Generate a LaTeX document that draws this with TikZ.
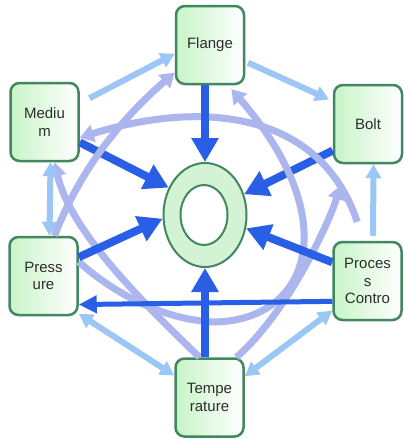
\documentclass[tikz,border=0pt]{standalone}
\usepackage{fontspec}
\setmainfont{Liberation Sans}
\usetikzlibrary{arrows.meta,shapes.geometric}
\definecolor{boxedge}{RGB}{66,135,95}
\definecolor{boxfill}{RGB}{200,244,200}
\definecolor{ringfill}{RGB}{212,243,212}
\definecolor{deepblue}{RGB}{40,95,230}
\definecolor{paleblue}{RGB}{155,198,245}
\definecolor{lilac}{RGB}{172,182,238}
\definecolor{txt}{RGB}{45,45,45}

\begin{document}
\begin{tikzpicture}[x=1pt,y=1pt]
\tikzstyle{block}=[draw=boxedge, line width=2.5pt, rounded corners=9pt, left color=boxfill, right color=white, minimum width=68pt, minimum height=78pt, inner sep=0pt, align=center, text=txt, font=\fontsize{15}{17.5}\selectfont]
\tikzstyle{mainarr}=[deepblue, line width=8pt, -{Triangle[width=26pt,length=24pt]}]
\tikzstyle{sidearr}=[paleblue, line width=6pt, -{Triangle[width=15pt,length=14pt]}]
\tikzstyle{bothway}=[paleblue, line width=6pt, {Triangle[width=15pt,length=14pt]}-{Triangle[width=15pt,length=14pt]}]
\tikzstyle{looparr}=[lilac, line width=7pt, -{Triangle[width=17pt,length=14pt]}]
\fill [white] (0,0) rectangle (403,-439);
\node [block] (flange) at (210,-45) {Flange};
\node [block] (medium) at (44.5,-122) {Mediu\\m};
\node [block] (bolt) at (368,-124) {Bolt};
\node [block] (pres) at (43.5,-276) {Press\\ure};
\node [block] (proc) at (367.5,-281) {Proces\\s\\Contro};
\node [block] (temp) at (209.5,-397.5) {Tempe\\rature};
\node [ellipse, draw=boxedge, line width=2pt, fill=ringfill, minimum width=83pt, minimum height=104pt, inner sep=0pt] (ring) at (205,-215) {};
\node [ellipse, draw=boxedge, line width=2pt, fill=white, minimum width=47pt, minimum height=60pt, inner sep=0pt] (hole) at (204,-215) {};
\draw [mainarr] (medium.-30) -- (ring.143);
\draw [mainarr] (bolt.217) -- (ring.28);
\draw [looparr] ([xshift=11pt]pres.north) .. controls (80,-170) and (120,-120) .. (flange.218);
\draw [looparr] ([xshift=-10pt]temp.north) .. controls (140,-300) and (70,-230) .. ([xshift=10pt]medium.south);
\draw [looparr, shorten <=20pt] ([xshift=-4pt]proc.north) .. controls (320,-110) and (200,-100) .. (medium.-24);
\draw [looparr, shorten >=5pt] (pres.22) .. controls (110,-290) and (160,-320) .. (215,-322) .. controls (310,-320) and (345,-220) .. ([xshift=18pt]flange.south);
\draw [looparr, shorten >=22pt] ([xshift=27pt]temp.north) .. controls (290,-310) and (330,-220) .. ([xshift=-21pt]bolt.south);
\draw [mainarr] (flange.south -| ring.north) -- (ring.north);
\draw [mainarr] (pres.28) -- (ring.185);
\draw [mainarr] (proc.152) -- (ring.-18);
\draw [mainarr] (temp.north -| ring.south) -- (ring.south);
\draw [deepblue, line width=5pt, -{Triangle[width=17pt,length=18pt]}] (proc.210) -- (pres.-39);
\draw [sidearr, shorten <=11pt] (medium.28) -- (flange.194);
\draw [sidearr, shorten <=3pt, shorten >=4pt] (flange.-25) -- (bolt.147);
\draw [sidearr, shorten <=5pt] ([xshift=5.5pt]proc.north) -- ([xshift=5.5pt]bolt.south);
\draw [bothway] ([xshift=6pt]medium.south) -- ([xshift=6pt]pres.north);
\draw [bothway] (pres.-47) -- (temp.148);
\draw [bothway] (temp.31) -- (proc.220);
\end{tikzpicture}
\end{document}
